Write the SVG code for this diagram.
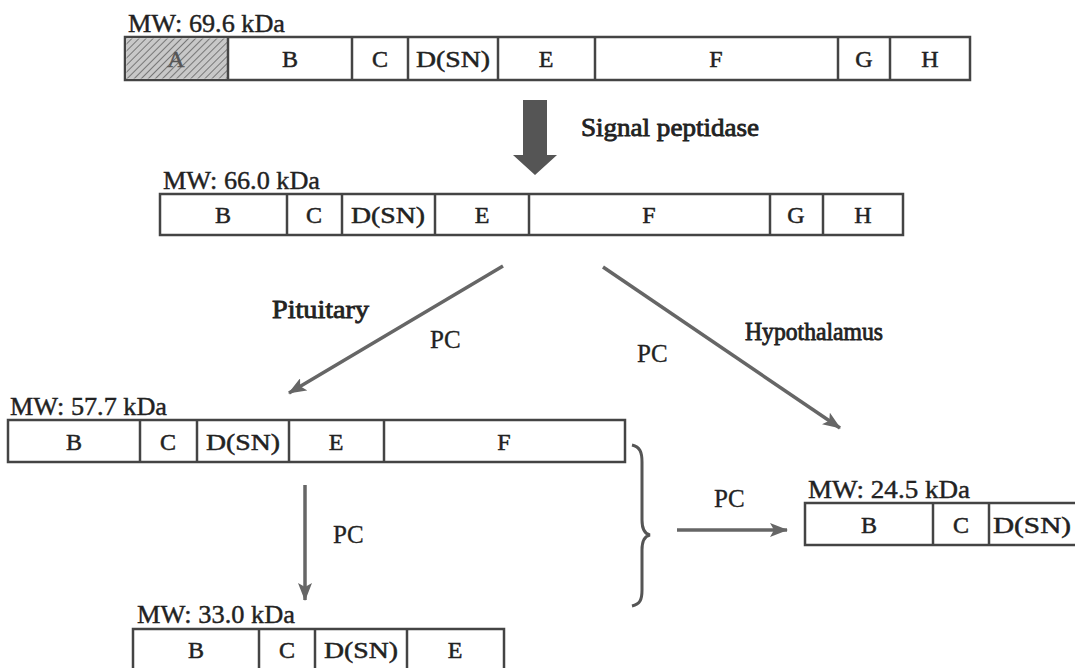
<svg xmlns="http://www.w3.org/2000/svg" width="1075" height="668" viewBox="0 0 1075 668">
<defs>
  <pattern id="hatch" width="5" height="5" patternUnits="userSpaceOnUse" patternTransform="rotate(45)">
    <rect width="5" height="5" fill="#c8c8c8"/>
    <line x1="0" y1="0" x2="0" y2="5" stroke="#777" stroke-width="2"/>
  </pattern>
  <marker id="ah" markerWidth="18" markerHeight="14" refX="17" refY="7" orient="auto" markerUnits="userSpaceOnUse">
    <path d="M0,0 L18,7 L0,14 L4,7 Z" fill="#666"/>
  </marker>
</defs>
<style>
  .box{fill:#fff;stroke:#444;stroke-width:2.5}
  .div{stroke:#444;stroke-width:2.5}
  .lt{font-family:"Liberation Serif","Times New Roman",serif;font-size:24px;fill:#222;stroke:#222;stroke-width:0.5;text-anchor:middle}
  .mw{font-family:"Liberation Serif","Times New Roman",serif;font-size:25px;fill:#222;stroke:#222;stroke-width:0.4}
  .lb{font-family:"Liberation Serif","Times New Roman",serif;font-size:25px;fill:#222;stroke:#222;stroke-width:0.8}
  .pc{font-family:"Liberation Serif","Times New Roman",serif;font-size:25px;fill:#222;stroke:#222;stroke-width:0.3}
  .conn{stroke:#666;stroke-width:3.5;fill:none}
</style>
<rect width="1075" height="668" fill="#fff"/>

<g id="precursor">
  <text class="mw" x="128" y="32" textLength="157" lengthAdjust="spacingAndGlyphs">MW: 69.6 kDa</text>
  <rect class="box" x="125" y="37" width="845" height="43"/>
  <rect x="126.5" y="38.5" width="100.5" height="40" fill="url(#hatch)"/>
  <line class="div" x1="228" y1="37" x2="228" y2="80"/>
  <line class="div" x1="352" y1="37" x2="352" y2="80"/>
  <line class="div" x1="408" y1="37" x2="408" y2="80"/>
  <line class="div" x1="498" y1="37" x2="498" y2="80"/>
  <line class="div" x1="595" y1="37" x2="595" y2="80"/>
  <line class="div" x1="838" y1="37" x2="838" y2="80"/>
  <line class="div" x1="890" y1="37" x2="890" y2="80"/>
  <text class="lt" x="176" y="67" style="fill:#555;stroke:#555">A</text>
  <text class="lt" x="290" y="67">B</text>
  <text class="lt" x="380" y="67">C</text>
  <text class="lt" x="453" y="67" textLength="74" lengthAdjust="spacingAndGlyphs">D(SN)</text>
  <text class="lt" x="546" y="67">E</text>
  <text class="lt" x="716" y="67">F</text>
  <text class="lt" x="864" y="67">G</text>
  <text class="lt" x="930" y="67">H</text>
</g>

<g id="pro66">
  <text class="mw" x="163" y="189" textLength="157" lengthAdjust="spacingAndGlyphs">MW: 66.0 kDa</text>
  <rect class="box" x="160" y="194" width="743" height="41"/>
  <line class="div" x1="287" y1="194" x2="287" y2="235"/>
  <line class="div" x1="342" y1="194" x2="342" y2="235"/>
  <line class="div" x1="435" y1="194" x2="435" y2="235"/>
  <line class="div" x1="529" y1="194" x2="529" y2="235"/>
  <line class="div" x1="770" y1="194" x2="770" y2="235"/>
  <line class="div" x1="823" y1="194" x2="823" y2="235"/>
  <text class="lt" x="223" y="223">B</text>
  <text class="lt" x="314" y="223">C</text>
  <text class="lt" x="388" y="223" textLength="74" lengthAdjust="spacingAndGlyphs">D(SN)</text>
  <text class="lt" x="482" y="223">E</text>
  <text class="lt" x="649" y="223">F</text>
  <text class="lt" x="796" y="223">G</text>
  <text class="lt" x="863" y="223">H</text>
</g>

<g id="pro57">
  <text class="mw" x="10" y="415" textLength="157" lengthAdjust="spacingAndGlyphs">MW: 57.7 kDa</text>
  <rect class="box" x="8" y="420" width="617" height="42"/>
  <line class="div" x1="140" y1="420" x2="140" y2="462"/>
  <line class="div" x1="197" y1="420" x2="197" y2="462"/>
  <line class="div" x1="289" y1="420" x2="289" y2="462"/>
  <line class="div" x1="384" y1="420" x2="384" y2="462"/>
  <text class="lt" x="74" y="450">B</text>
  <text class="lt" x="168" y="450">C</text>
  <text class="lt" x="243" y="450" textLength="74" lengthAdjust="spacingAndGlyphs">D(SN)</text>
  <text class="lt" x="336" y="450">E</text>
  <text class="lt" x="504" y="450">F</text>
</g>

<g id="pro24">
  <text class="mw" x="808" y="498" textLength="162" lengthAdjust="spacingAndGlyphs">MW: 24.5 kDa</text>
  <rect class="box" x="805" y="503" width="290" height="42"/>
  <line class="div" x1="933" y1="503" x2="933" y2="545"/>
  <line class="div" x1="989" y1="503" x2="989" y2="545"/>
  <text class="lt" x="869" y="533">B</text>
  <text class="lt" x="961" y="533">C</text>
  <text class="lt" x="1032" y="533" textLength="78" lengthAdjust="spacingAndGlyphs">D(SN)</text>
</g>

<g id="pro33">
  <text class="mw" x="137" y="623" textLength="158" lengthAdjust="spacingAndGlyphs">MW: 33.0 kDa</text>
  <rect class="box" x="133" y="629" width="371" height="45"/>
  <line class="div" x1="259" y1="629" x2="259" y2="674"/>
  <line class="div" x1="315" y1="629" x2="315" y2="674"/>
  <line class="div" x1="407" y1="629" x2="407" y2="674"/>
  <text class="lt" x="196" y="658">B</text>
  <text class="lt" x="287" y="658">C</text>
  <text class="lt" x="361" y="658" textLength="74" lengthAdjust="spacingAndGlyphs">D(SN)</text>
  <text class="lt" x="455" y="658">E</text>
</g>

<g id="connectors">
  <polygon points="523,100 547,100 547,155 557,155 535,175 513,155 523,155" fill="#555"/>
  <line class="conn" x1="503" y1="266" x2="289" y2="393" marker-end="url(#ah)"/>
  <line class="conn" x1="603" y1="267" x2="840" y2="428" marker-end="url(#ah)"/>
  <line class="conn" x1="305" y1="485" x2="305" y2="600" marker-end="url(#ah)"/>
  <line class="conn" x1="677" y1="530" x2="787" y2="530" marker-end="url(#ah)"/>
  <path d="M632,445 C640,447 642,452 642,462 L642,520 C642,530 645,534 650,535 C645,536 642,540 642,550 L642,590 C642,600 640,604 632,606" fill="none" stroke="#555" stroke-width="3"/>
</g>

<g id="labels">
  <text class="lb" x="581" y="136" textLength="178" lengthAdjust="spacingAndGlyphs">Signal peptidase</text>
  <text class="lb" x="272" y="318" textLength="97" lengthAdjust="spacingAndGlyphs">Pituitary</text>
  <text class="pc" x="430" y="348">PC</text>
  <text class="pc" x="637" y="362">PC</text>
  <text class="lb" x="745" y="340" textLength="138" lengthAdjust="spacingAndGlyphs">Hypothalamus</text>
  <text class="pc" x="714" y="507">PC</text>
  <text class="pc" x="333" y="543">PC</text>
</g>
</svg>
